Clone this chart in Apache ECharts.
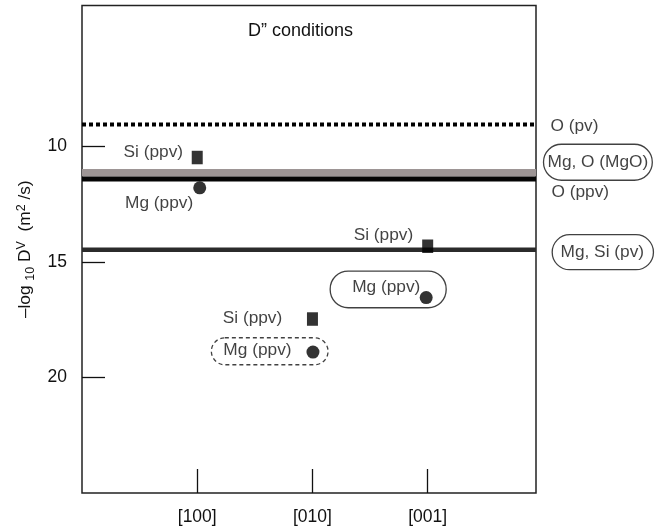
<!DOCTYPE html>
<html><head><meta charset="utf-8">
<script src="https://cdn.jsdelivr.net/npm/echarts@6/dist/echarts.min.js"></script>
<style>html,body{margin:0;padding:0;background:#fff}#c{width:665px;height:530px}</style>
</head><body><div id="c"></div>
<script>
// ---- data ----
const categories = ['[100]', '[010]', '[001]'];
const siPpv = [10.48, 17.47, 14.32];
const mgPpv = [11.79, 18.90, 16.54];
const levelNames = ['O (pv)', 'Mg, O (MgO)', 'O (ppv)', 'Mg, Si (pv)'];
const levelValues = [9.05, 11.14, 11.41, 14.47];
const yTickValues = [10, 15, 20];
const xTickValues = [1, 2, 3];
const titleText = 'D\u201D conditions';

// ---- layout / style ----
const X_MIN = 0, X_MAX = 3.94, Y_MIN = 3.9, Y_MAX = 25;
const FONT = '"Liberation Sans", Arial, Helvetica, sans-serif';
const FS = 17.3;
const TFS = 17.5;
const INK = '#111';
const MARK = '#000';

const levelStyles = [
  {color: '#000', width: 4, type: [4, 3]},
  {color: '#9d9595', width: 7.5, type: 'solid'},
  {color: '#050505', width: 5, type: 'solid'},
  {color: '#2b2b2b', width: 4.5, type: 'solid'}
];
const levelLabelStyles = [
  {position: 'right', distance: 0, offset: [14, 2]},
  {position: 'right', distance: 0, offset: [7, -10.5], padding: [10, 4, 10, 4], lineHeight: 16,
   borderColor: '#111', borderWidth: 1.3, borderRadius: 18},
  {position: 'right', distance: 0, offset: [15, 13.5]},
  {position: 'right', distance: 0, offset: [15.7, 2.5], padding: [9.5, 9.4, 9.5, 8.3], lineHeight: 16,
   borderColor: '#111', borderWidth: 1.3, borderRadius: 18}
];
const siLabelStyles = [
  {position: 'left', distance: 0, offset: [-8.7, -5]},
  {position: 'left', distance: 0, offset: [-24.7, -1]},
  {position: 'left', distance: 0, offset: [-9, -11]}
];
const mgLabelStyles = [
  {position: 'left', distance: 0, offset: [0, 15]},
  {position: [-95.1, -7.8], align: 'left', verticalAlign: 'top', padding: [4.5, 36.5, 6.5, 12], lineHeight: 16,
   borderColor: '#111', borderWidth: 1.3, borderType: [4, 3], borderRadius: 14},
  {position: [-89.5, -20], align: 'left', verticalAlign: 'top', padding: [8, 25.8, 12.7, 22], lineHeight: 16,
   borderColor: '#111', borderWidth: 1.3, borderRadius: 18}
];
const mgSymbolOffsets = [[2.5, 0], [0.5, 0], [-1.5, 0]];

const chart = echarts.init(document.getElementById('c'), null, {renderer: 'canvas'});

const series = [];
levelValues.forEach((v, i) => {
  series.push({
    type: 'line', silent: true, symbol: 'none', z: 2 + i,
    data: [[X_MIN, v], [X_MAX, v]],
    lineStyle: {color: levelStyles[i].color, width: levelStyles[i].width, type: levelStyles[i].type, cap: 'butt'}
  });
});
series.push({
  type: 'scatter', silent: true, clip: false, symbolSize: 1,
  itemStyle: {color: 'rgba(0,0,0,0)'},
  label: {show: true, formatter: '{b}', color: INK, fontSize: FS, fontFamily: FONT},
  data: levelValues.map((v, i) => ({name: levelNames[i], value: [X_MAX, v], label: levelLabelStyles[i]})),
  z: 10
});
series.push({
  type: 'scatter', silent: true, symbol: 'rect', symbolSize: [11, 13.5],
  itemStyle: {color: MARK},
  label: {show: true, formatter: 'Si (ppv)', color: INK, fontSize: FS, fontFamily: FONT},
  data: siPpv.map((v, i) => ({value: [xTickValues[i], v], label: siLabelStyles[i]})),
  z: 10
});
series.push({
  type: 'scatter', silent: true, symbol: 'circle', symbolSize: 13,
  itemStyle: {color: MARK},
  label: {show: true, formatter: 'Mg (ppv)', color: INK, fontSize: FS, fontFamily: FONT},
  data: mgPpv.map((v, i) => ({value: [xTickValues[i], v], symbolOffset: mgSymbolOffsets[i], label: mgLabelStyles[i]})),
  z: 10
});

chart.setOption({
  animation: false,
  backgroundColor: '#fff',
  title: {text: titleText, left: 248, top: 22, padding: 0,
    textStyle: {fontSize: 18, fontWeight: 'normal', color: INK, fontFamily: FONT}},
  grid: {left: 82, right: 129, top: 5.5, bottom: 37, show: true, borderColor: '#222', borderWidth: 1.5},
  xAxis: {
    type: 'value', min: X_MIN, max: X_MAX,
    axisLine: {show: false}, splitLine: {show: false},
    axisTick: {show: true, inside: true, length: 24, customValues: xTickValues, lineStyle: {color: '#111', width: 1.3}},
    axisLabel: {show: true, customValues: xTickValues, margin: 15, fontSize: TFS, color: INK, fontFamily: FONT,
      formatter: v => categories[Math.round(v) - 1]}
  },
  yAxis: {
    type: 'value', inverse: true, min: Y_MIN, max: Y_MAX,
    axisLine: {show: false}, splitLine: {show: false},
    axisTick: {show: true, inside: true, length: 23, customValues: yTickValues, lineStyle: {color: '#111', width: 1.3}},
    axisLabel: {show: true, customValues: yTickValues, margin: 15, fontSize: TFS, color: INK, fontFamily: FONT},
    name: '{a|\u2013log }{sub|10}{a| D}{sup|V}{a|  (m}{sup|2}{a| /s)}',
    nameLocation: 'middle', nameRotate: 90, nameGap: 41,
    nameTextStyle: {
      color: INK, fontFamily: FONT,
      rich: {
        a: {fontSize: FS, lineHeight: 22, color: INK, fontFamily: FONT},
        sub: {fontSize: 12.5, lineHeight: 19, verticalAlign: 'bottom', color: INK, fontFamily: FONT},
        sup: {fontSize: 12.5, lineHeight: 12, verticalAlign: 'top', color: INK, fontFamily: FONT}
      }
    }
  },
  series: series
});
</script>
</body></html>
